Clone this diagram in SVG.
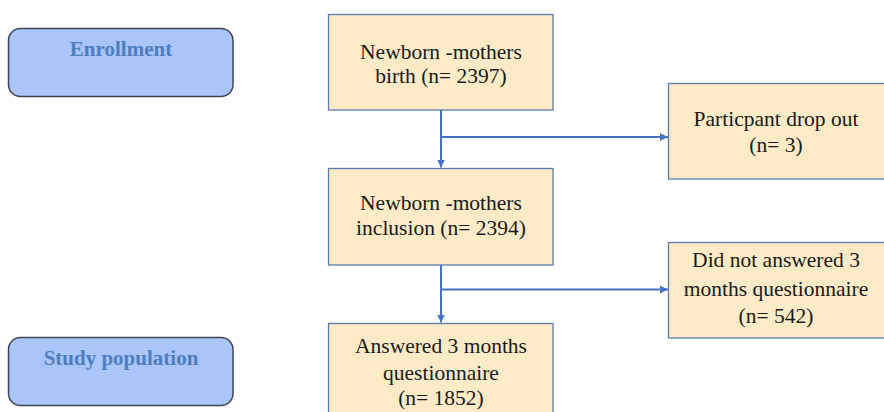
<svg xmlns="http://www.w3.org/2000/svg" width="884" height="412" viewBox="0 0 884 412">
<defs>
<marker id="ah" viewBox="0 0 10 10" refX="10" refY="5" markerWidth="4" markerHeight="4" orient="auto" markerUnits="strokeWidth">
<path d="M0,0 L10,5 L0,10 z" fill="#4472C4"/>
</marker>
<style>
.side{fill:#A9C5FA;stroke:#3F4550;stroke-width:1.5}
.sidet{font-family:'Liberation Serif','Times New Roman','DejaVu Serif',serif;font-weight:bold;font-size:21px;fill:#4F7EBE;text-anchor:middle}
.box{fill:#FDEBC8;stroke:#5B7BB0;stroke-width:1.3}
.t{font-family:'Liberation Serif','Times New Roman','DejaVu Serif',serif;font-size:21.5px;fill:#1a1a1a;text-anchor:middle}
.c{fill:none;stroke:#4472C4;stroke-width:2;marker-end:url(#ah)}
</style>
</defs>
<rect width="884" height="412" fill="#ffffff"/>
<g id="enrollment">
<rect class="side" x="8.5" y="28.5" width="224.5" height="68" rx="12"/>
<text class="sidet" x="121" y="56">Enrollment</text>
</g>
<g id="study-population">
<rect class="side" x="8.5" y="337.5" width="224.5" height="68" rx="12"/>
<text class="sidet" x="121" y="365">Study population</text>
</g>
<g id="birth">
<rect class="box" x="328.5" y="14.5" width="224.5" height="95.5"/>
<text class="t" x="441" y="59">Newborn -mothers</text>
<text class="t" x="441" y="83">birth (n= 2397)</text>
</g>
<g id="dropout">
<rect class="box" x="668.5" y="83.5" width="230" height="95.5"/>
<text class="t" x="776" y="126">Particpant drop out</text>
<text class="t" x="776" y="152">(n= 3)</text>
</g>
<g id="inclusion">
<rect class="box" x="328.5" y="168.5" width="224.5" height="96.5"/>
<text class="t" x="441" y="210">Newborn -mothers</text>
<text class="t" x="441" y="235">inclusion (n= 2394)</text>
</g>
<g id="not-answered">
<rect class="box" x="668.5" y="242.5" width="230" height="95.5"/>
<text class="t" x="776" y="267">Did not answered 3</text>
<text class="t" x="776" y="296">months questionnaire</text>
<text class="t" x="776" y="323">(n= 542)</text>
</g>
<g id="answered">
<rect class="box" x="328.5" y="323.5" width="224.5" height="100"/>
<text class="t" x="441" y="353">Answered 3 months</text>
<text class="t" x="441" y="380">questionnaire</text>
<text class="t" x="441" y="405">(n= 1852)</text>
</g>
<g id="connectors">
<path class="c" d="M441,110 L441,167.5"/>
<path class="c" d="M441,137 L668,137"/>
<path class="c" d="M441,265 L441,322.5"/>
<path class="c" d="M441,289.5 L668,289.5"/>
</g>
</svg>
